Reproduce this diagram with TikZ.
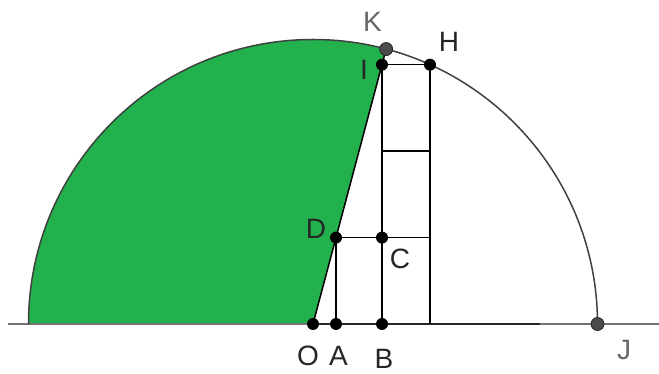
\documentclass[tikz,border=0pt]{standalone}
\usepackage{fontspec}
\setmainfont{Liberation Sans}
\usetikzlibrary{calc}
\definecolor{fillgreen}{RGB}{34,177,76}
\begin{document}
\begin{tikzpicture}[x=1pt,y=1pt,
  lbl/.style={font=\fontsize{28}{28}\selectfont, inner sep=0pt, text=black!85},
  glbl/.style={lbl, text=black!60},
  dot/.style={circle, fill=black, inner sep=0pt, minimum size=12pt},
  gdot/.style={circle, fill=black!70, draw=black!85, line width=0.8pt, inner sep=0pt, minimum size=13pt},
  seg/.style={line width=1.5pt, black},
  axisline/.style={line width=2pt, black!55},
  circ/.style={line width=1.5pt, black!75},
]
\useasboundingbox (0,0) rectangle (659,374);
\def\rad{284.5}
\coordinate (O) at (313,50);
\coordinate (B) at (382,50);
\coordinate (A) at (336,50);
\coordinate (H) at (430,309.3);
\coordinate (I) at (382,309.3);
\coordinate (D) at (336,136.4);
\coordinate (C) at (382,136.4);
\coordinate (M1) at (382,222.9);
\coordinate (M2) at (430,222.9);
\coordinate (R) at (430,136.4);
\coordinate (Q) at (430,50);
\coordinate (K) at ($(O)+(75.1:\rad)$);
\coordinate (J) at ($(O)+(0:\rad)$);
\coordinate (X0) at (8,50);
\coordinate (X1) at (659,50);
\coordinate (X2) at (540,50);
% green sector
\fill[fillgreen] (O) -- (K) arc (75.1:180:\rad) -- cycle;
% axis
\draw[axisline] (X0) -- (X1);
\draw[seg, black!85] (O) -- (X2);
% circle
\draw[circ] (J) arc (0:180:\rad);
% segments
\draw[seg] (O) -- (K);
\draw[seg] (A) -- (D);
\draw[seg] (D) -- (R);
\draw[seg] (B) -- (I);
\draw[seg] (Q) -- (H);
\draw[seg] (I) -- (H);
\draw[seg] (M1) -- (M2);
% points
\node[gdot] (pK) at (K) {};
\node[gdot] (pJ) at (J) {};
\node[dot] (pO) at (O) {};
\node[dot] (pA) at (A) {};
\node[dot] (pB) at (B) {};
\node[dot] (pD) at (D) {};
\node[dot] (pC) at (C) {};
\node[dot] (pI) at (I) {};
\node[dot] (pH) at (H) {};
% labels
\node[glbl] (lK) at (372.5,352.5) {K};
\node[glbl] (lJ) at (624,24) {J};
\node[lbl] (lH) at (449,332) {H};
\node[lbl] (lI) at (364,304) {I};
\node[lbl] (lD) at (316,145) {D};
\node[lbl] (lC) at (400,115) {C};
\node[lbl] (lO) at (308,18) {O};
\node[lbl] (lA) at (338.5,18) {A};
\node[lbl] (lB) at (384,15) {B};
\end{tikzpicture}
\end{document}
